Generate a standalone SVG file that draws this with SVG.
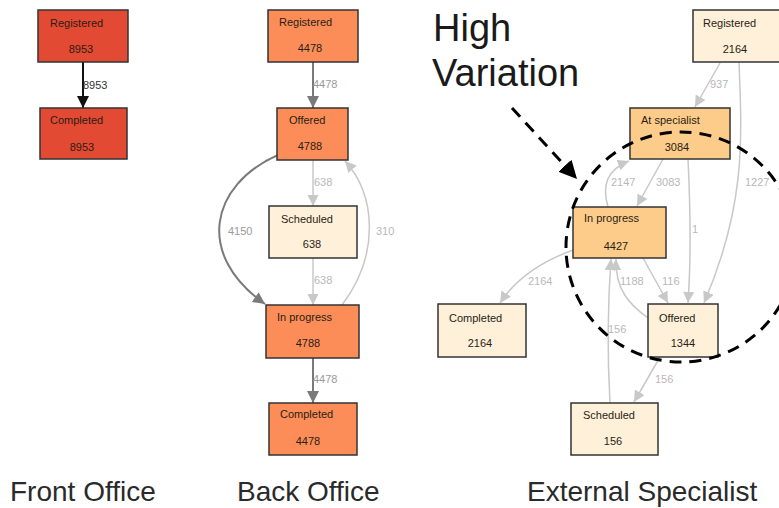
<svg xmlns="http://www.w3.org/2000/svg" width="779" height="508" viewBox="0 0 779 508">
<defs>
<style>
text{font-family:"Liberation Sans",Arial,sans-serif}
.box{stroke:#333;stroke-width:1.5}
.red{fill:#e34a33}
.org{fill:#fc8d59}
.pch{fill:#fdcc8a}
.pal{fill:#fef0d9}
.nl{font-size:11px;fill:#2b1d14}
.nn{font-size:11px;fill:#2b1d14;text-anchor:middle}
.e{fill:none}
.eb{stroke:#111;stroke-width:2}
.ed{stroke:#7a7a7a;stroke-width:2}
.el{stroke:#c8c8c8;stroke-width:1.5}
.lb{font-size:11px;fill:#333}
.ld{font-size:11px;fill:#9a9a9a}
.ll{font-size:11px;fill:#b8b8b8}
.big{font-size:38px;fill:#1a1a1a}
.cap{font-size:28px;fill:#2a2a2a}
</style>
<marker id="mb" viewBox="0 0 10 10" refX="10" refY="5" markerWidth="6" markerHeight="6" markerUnits="strokeWidth" orient="auto"><path d="M0,0L10,5L0,10z" fill="#111"/></marker>
<marker id="md" viewBox="0 0 10 10" refX="10" refY="5" markerWidth="6" markerHeight="6" markerUnits="strokeWidth" orient="auto"><path d="M0,0L10,5L0,10z" fill="#7a7a7a"/></marker>
<marker id="ml" viewBox="0 0 10 10" refX="10" refY="5" markerWidth="7.5" markerHeight="7.5" markerUnits="strokeWidth" orient="auto"><path d="M0,0L10,5L0,10z" fill="#c8c8c8"/></marker>
<marker id="mk" viewBox="0 0 10 10" refX="10" refY="5" markerWidth="6" markerHeight="6" markerUnits="strokeWidth" orient="auto"><path d="M0,0L10,5L0,10z" fill="#000"/></marker>
</defs>
<rect width="779" height="508" fill="#fff"/>

<g id="connectors">
<!-- Front office -->
<path class="e eb" d="M83 62L83 108" marker-end="url(#mb)"/>
<text class="lb" x="83" y="89">8953</text>
<!-- Back office -->
<path class="e ed" d="M313 62L313 108" marker-end="url(#md)"/>
<text class="ld" x="313" y="88">4478</text>
<path class="e el" d="M313 160L313 206" marker-end="url(#ml)"/>
<text class="ll" x="314" y="186">638</text>
<path class="e el" d="M313 258L313 305" marker-end="url(#ml)"/>
<text class="ll" x="314" y="284">638</text>
<path class="e ed" d="M313 358L313 403" marker-end="url(#md)"/>
<text class="ld" x="313" y="383">4478</text>
<path class="e ed" d="M278 155C210 185 195 255 265 304" marker-end="url(#md)"/>
<text class="ld" x="228" y="235">4150</text>
<path class="e el" d="M342 305C380 255 376 195 345 161" marker-end="url(#ml)"/>
<text class="ll" x="376" y="235">310</text>
<!-- External specialist -->
<path class="e el" d="M720 63L695 107" marker-end="url(#ml)"/>
<text class="ll" x="710" y="88">937</text>
<path class="e el" d="M739 62C742 140 746 205 704 303" marker-end="url(#ml)"/>
<text class="ll" x="745" y="186">1227</text>
<path class="e el" d="M688 159C691 220 691 260 688 303" marker-end="url(#ml)"/>
<text class="ll" x="692" y="233">1</text>
<path class="e el" d="M663 159L637 206" marker-end="url(#ml)"/>
<text class="ll" x="656" y="186">3083</text>
<path class="e el" d="M608 207C602 186 606 170 629 161" marker-end="url(#ml)"/>
<text class="ll" x="611" y="186">2147</text>
<path class="e el" d="M573 250C540 262 515 280 500 303" marker-end="url(#ml)"/>
<text class="ll" x="528" y="285">2164</text>
<path class="e el" d="M643 258L668 303" marker-end="url(#ml)"/>
<text class="ll" x="662" y="285">116</text>
<path class="e el" d="M648 318C630 305 615 290 616 259" marker-end="url(#ml)"/>
<text class="ll" x="620" y="285">1188</text>
<path class="e el" d="M610 403C607 350 608 300 611 259" marker-end="url(#ml)"/>
<text class="ll" x="608" y="333">156</text>
<path class="e el" d="M660 357L634 402" marker-end="url(#ml)"/>
<text class="ll" x="655" y="383">156</text>
</g>

<g id="fo-registered"><rect class="box red" x="38" y="10" width="90" height="52"/><text class="nl" x="50" y="27">Registered</text><text class="nn" x="81" y="53">8953</text></g>
<g id="fo-completed"><rect class="box red" x="40" y="108" width="87" height="51"/><text class="nl" x="50" y="124">Completed</text><text class="nn" x="82" y="151">8953</text></g>

<g id="bo-registered"><rect class="box org" x="268" y="10" width="90" height="52"/><text class="nl" x="279" y="26">Registered</text><text class="nn" x="310" y="52">4478</text></g>
<g id="bo-offered"><rect class="box org" x="277" y="108" width="71" height="52"/><text class="nl" x="289" y="124">Offered</text><text class="nn" x="310" y="150">4788</text></g>
<g id="bo-scheduled"><rect class="box pal" x="269" y="206" width="88" height="52"/><text class="nl" x="281" y="223">Scheduled</text><text class="nn" x="312" y="248">638</text></g>
<g id="bo-inprogress"><rect class="box org" x="266" y="305" width="93" height="53"/><text class="nl" x="277" y="321">In progress</text><text class="nn" x="308" y="347">4788</text></g>
<g id="bo-completed"><rect class="box org" x="269" y="403" width="88" height="52"/><text class="nl" x="280" y="418">Completed</text><text class="nn" x="308" y="445">4478</text></g>

<g id="es-registered"><rect class="box pal" x="693" y="10" width="90" height="52"/><text class="nl" x="703" y="27">Registered</text><text class="nn" x="735" y="53">2164</text></g>
<g id="es-atspecialist"><rect class="box pch" x="630" y="108" width="100" height="51"/><text class="nl" x="641" y="124">At specialist</text><text class="nn" x="677" y="151">3084</text></g>
<g id="es-inprogress"><rect class="box pch" x="573" y="207" width="93" height="51"/><text class="nl" x="584" y="222">In progress</text><text class="nn" x="616" y="250">4427</text></g>
<g id="es-completed"><rect class="box pal" x="438" y="304" width="88" height="53"/><text class="nl" x="449" y="322">Completed</text><text class="nn" x="480" y="347">2164</text></g>
<g id="es-offered"><rect class="box pal" x="648" y="304" width="70" height="53"/><text class="nl" x="659" y="322">Offered</text><text class="nn" x="683" y="347">1344</text></g>
<g id="es-scheduled"><rect class="box pal" x="571" y="403" width="87" height="52"/><text class="nl" x="583" y="419">Scheduled</text><text class="nn" x="613" y="445">156</text></g>

<g id="annotation">
<ellipse cx="681" cy="247" rx="115" ry="115" fill="none" stroke="#000" stroke-width="3" stroke-dasharray="12 8"/>
<path d="M512 108L577 179" fill="none" stroke="#000" stroke-width="3" stroke-dasharray="12 8" marker-end="url(#mk)"/>
<text class="big" x="433" y="41">High</text>
<text class="big" x="432" y="86">Variation</text>
</g>

<g id="captions">
<text class="cap" x="10" y="501">Front Office</text>
<text class="cap" x="237" y="501">Back Office</text>
<text class="cap" x="527" y="501">External Specialist</text>
</g>
</svg>
